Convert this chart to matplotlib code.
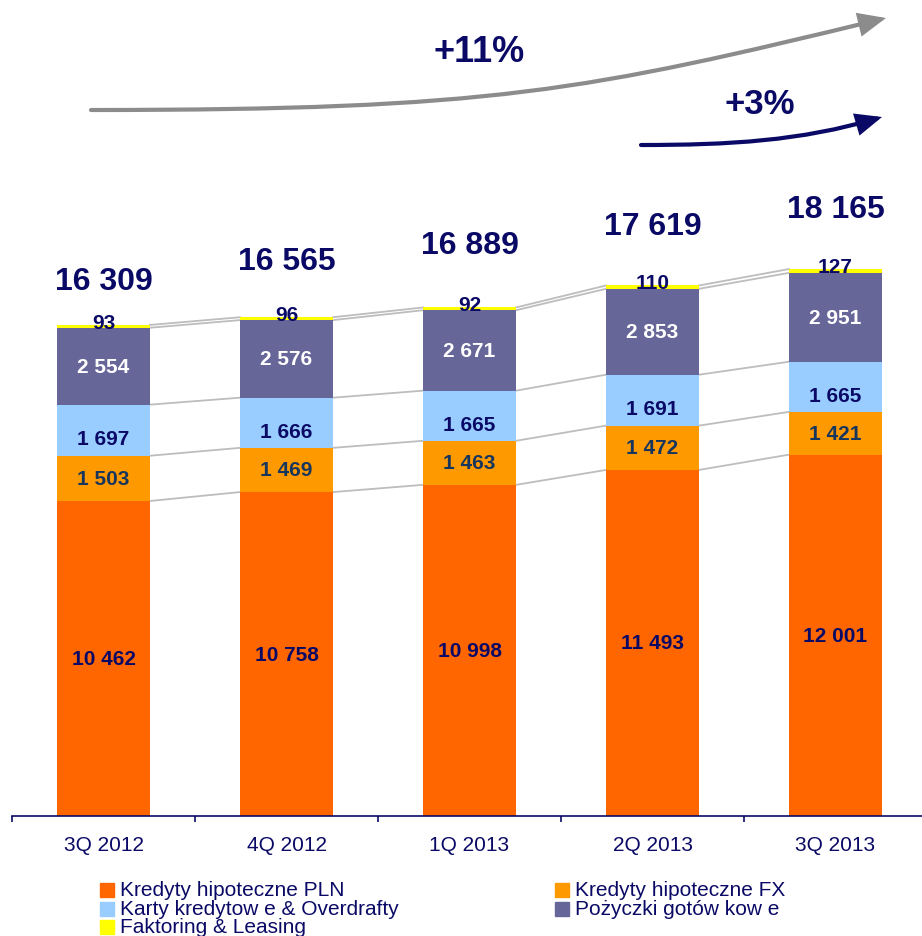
import numpy as np
import matplotlib
matplotlib.use('Agg')
import matplotlib.pyplot as plt
from matplotlib.path import Path
from matplotlib.patches import FancyArrowPatch, Rectangle

plt.rcParams['font.family'] = ['Liberation Sans', 'DejaVu Sans']

# data (mln PLN)
quarters = ['3Q 2012', '4Q 2012', '1Q 2013', '2Q 2013', '3Q 2013']
kredyty_pln = [10462, 10758, 10998, 11493, 12001]
kredyty_fx = [1503, 1469, 1463, 1472, 1421]
karty = [1697, 1666, 1665, 1691, 1665]
pozyczki = [2554, 2576, 2671, 2853, 2951]
faktoring = [93, 96, 92, 110, 127]
totals = [16309, 16565, 16889, 17619, 18165]

series_names = ['Kredyty hipoteczne PLN', 'Kredyty hipoteczne FX',
                'Karty kredytow e & Overdrafty', 'Pożyczki gotów kow e',
                'Faktoring & Leasing']
colors = ['#FF6600', '#FF9900', '#99CCFF', '#666699', '#FFFF00']
label_colors = ['#0A0A66', '#17365D', '#0A0A66', 'white', '#0A0A66']
navy = '#0A0A66'

W, H = 922, 937
fig = plt.figure(figsize=(W / 100, H / 100), dpi=100)

# main axes: x axis line at y=817px, bars from x=12px
px_per_unit = 0.03011
ax_h = 817
ax = fig.add_axes([12 / W, (H - 817) / H, (W - 12) / W, ax_h / H])
ax.set_ylim(0, ax_h / px_per_unit)
ax.set_xlim(-0.5, -0.5 + (W - 12) / 183)

x = np.arange(len(quarters))
width = 0.508
stack = [kredyty_pln, kredyty_fx, karty, pozyczki, faktoring]
bottom = np.zeros(len(quarters))
tops = []
for vals, col, lcol, si in zip(stack, colors, label_colors, range(5)):
    vals = np.array(vals, dtype=float)
    ax.bar(x, vals, width, bottom=bottom, color=col, zorder=2)
    for i in range(len(x)):
        txt = f'{int(vals[i]):,}'.replace(',', ' ')
        if si == 4:
            ax.annotate(txt, (x[i], bottom[i] + vals[i]), xytext=(0, 2),
                        textcoords='offset points', ha='center', va='center',
                        fontsize=15, fontweight='bold', color=lcol, zorder=4)
        else:
            dy = -6 if si == 2 else 0
            ax.annotate(txt, (x[i], bottom[i] + vals[i] / 2), xytext=(0, dy),
                        textcoords='offset points', ha='center', va='center',
                        fontsize=15, fontweight='bold', color=lcol, zorder=4)
    bottom = bottom + vals
    tops.append(bottom.copy())

# connector lines between bars
for lev in tops[:5]:
    for i in range(len(x) - 1):
        ax.plot([x[i] + width / 2, x[i + 1] - width / 2], [lev[i], lev[i + 1]],
                color='#BDBDBD', lw=1.3, zorder=1)

# totals above bars
total_gap_px = [44, 56, 62, 59, 60]
for i, t in enumerate(totals):
    ax.annotate(f'{t:,}'.replace(',', ' '), (x[i], tops[-1][i]),
                xytext=(0, total_gap_px[i] * 0.72), textcoords='offset points',
                ha='center', va='center', fontsize=23, fontweight='bold', color=navy)

# axis styling
for s in ['top', 'right', 'left']:
    ax.spines[s].set_visible(False)
ax.spines['bottom'].set_color(navy)
ax.spines['bottom'].set_linewidth(1.2)
ax.set_yticks([])
ax.set_xticks(x)
ax.set_xticklabels(quarters, fontsize=15, color=navy)
ax.tick_params(axis='x', which='major', length=0, pad=14)
ax.set_xticks(np.arange(-0.5, 4.0, 1), minor=True)
ax.tick_params(axis='x', which='minor', length=4.5, width=1.2, color=navy, direction='out')

# overlay in pixel coordinates for arrows and legend
ov = fig.add_axes([0, 0, 1, 1])
ov.set_xlim(0, W)
ov.set_ylim(H, 0)
ov.axis('off')

codes = [Path.MOVETO, Path.CURVE4, Path.CURVE4, Path.CURVE4]
gray_path = Path([(91, 111), (491, 111), (586, 92), (886, 19)], codes)
ov.add_patch(FancyArrowPatch(path=gray_path, arrowstyle='-|>,head_length=15,head_width=6.5',
                             color='#8C8C8C', lw=3, mutation_scale=1, joinstyle='miter'))
navy_path = Path([(641, 146), (730, 146), (800, 142), (882, 118)], codes)
ov.add_patch(FancyArrowPatch(path=navy_path, arrowstyle='-|>,head_length=14,head_width=6',
                             color=navy, lw=3, mutation_scale=1, joinstyle='miter'))
ov.text(479, 52, '+11%', ha='center', va='center', fontsize=26, fontweight='bold', color=navy)
ov.text(760, 104, '+3%', ha='center', va='center', fontsize=25, fontweight='bold', color=navy)

# legend
legend_pos = [(100, 891), (555, 891), (100, 910), (555, 910), (100, 928)]
for (lx, ly), name, col in zip(legend_pos, series_names, colors):
    ov.add_patch(Rectangle((lx, ly - 7), 14, 14, color=col))
    ov.text(lx + 20, ly, name, ha='left', va='center', fontsize=15, color=navy)

fig.savefig('out.png', dpi=100)
